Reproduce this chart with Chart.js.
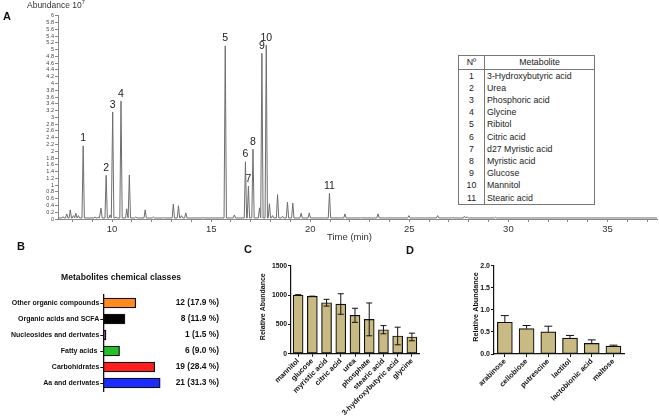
<!DOCTYPE html>
<html><head><meta charset="utf-8">
<script src="https://cdn.jsdelivr.net/npm/chart.js@4/dist/chart.umd.min.js"></script>
<style>
body{margin:0;background:#fff;width:659px;height:417px;position:relative;overflow:hidden;font-family:"Liberation Sans",Arial,sans-serif;}
canvas{position:absolute;}
.pl{position:absolute;font-weight:bold;font-size:11px;color:#111;line-height:1;}
#abund{position:absolute;left:27px;top:0px;font-size:8.5px;color:#333;line-height:1;}
#abund sup{font-size:5.5px;}
#tbl{position:absolute;left:458px;top:55px;width:137px;border-collapse:collapse;table-layout:fixed;font-size:8.8px;color:#222;background:#fff;border:1px solid #777;z-index:5;}
#tbl td{padding:0;height:12.2px;line-height:12.2px;white-space:nowrap;}
#tbl td.n{text-align:center;border-right:1px solid #777;}
#tbl td.m{padding-left:2px;}
#tbl tr.h td{height:12.5px;border-bottom:1px solid #777;}
#tbl tr.h td.m{text-align:center;padding-left:0;}
</style></head><body>
<canvas id="cA" width="659" height="250" style="left:0;top:0"></canvas>
<canvas id="cB" width="230" height="150" style="left:0;top:260px"></canvas>
<canvas id="cC" width="200" height="162" style="left:230px;top:255px"></canvas>
<canvas id="cD" width="229" height="162" style="left:430px;top:255px"></canvas>
<div id="abund">Abundance 10<sup>7</sup></div>
<div class="pl" style="left:3px;top:11px">A</div>
<div class="pl" style="left:17px;top:241px">B</div>
<div class="pl" style="left:244px;top:244px">C</div>
<div class="pl" style="left:406px;top:245px">D</div>
<table id="tbl"></table>
<script>
// ---------- Panel A: chromatogram ----------
const chromPeakTimes   = [7.52,7.71,7.89,8.05,8.17,8.30,8.54,9.14,9.30,9.44,9.70,9.90,10.03,10.20,10.45,10.74,10.87,11.20,11.67,12.08,12.60,13.09,13.35,13.50,13.72,14.60,15.71,16.17,16.73,16.88,17.11,17.44,17.56,17.78,17.94,18.10,18.35,18.60,18.85,19.12,19.54,19.95,20.97,21.75,22.60,23.42,24.98,26.43,27.20,27.78,27.92,29.35];
const chromPeakHeights = [0.07,0.15,0.27,0.10,0.17,0.10,2.16,0.06,0.05,0.32,1.29,0.12,3.16,0.06,3.48,0.30,1.30,0.06,0.27,0.06,0.04,0.44,0.39,0.10,0.18,0.04,5.11,0.12,1.69,0.97,2.06,0.33,4.89,5.13,0.45,0.10,0.72,0.08,0.50,0.47,0.17,0.18,0.76,0.15,0.04,0.15,0.10,0.10,0.04,0.08,0.06,0.05];
const chromPeakLabels  = ['','','','','','','1','','','','2','','3','','4','','','','','','','','','','','','5','','6','7','8','','9','10','','','','','','','','','11','','','','','','','','',''];
const chromBaseline = 0.03;
const chromRange = [7.27, 37.5];
const chromXTicks = [8,9,10,11,12,13,14,15,16,17,18,19,20,21,22,23,24,25,26,27,28,29,30,31,32,33,34,35,36,37];
const chromXLabels = ['10','15','20','25','30','35'];

// Table
const metaboliteIds = ['1','2','3','4','5','6','7','8','9','10','11'];
const metaboliteNames = ['3-Hydroxybutyric acid','Urea','Phosphoric acid','Glycine','Ribitol','Citric acid','d27 Myristic acid','Myristic acid','Glucose','Mannitol','Stearic acid'];

// ---------- Panel B ----------
const classNames = ['Other organic compounds','Organic acids and SCFA','Nucleosides and derivates','Fatty acids ','Carbohidrates','Aa and derivates'];
const classCounts = [12,8,1,6,19,21];
const classPercents = ['17.9','11.9','1.5','9.0','28.4','31.3'];

// ---------- Panel C ----------
const cCategories = ['mannitol','glucose','myristic acid','citric acid','urea','phosphate','stearic acid','3-hydroxybutyric acid','glycine'];
const cValues = [1000,978,869,847,654,585,409,302,285];
const cErrors = [6,3,58,175,120,280,70,150,65];

// ---------- Panel D ----------
const dCategories = ['arabinose','cellobiose','putrescine','lactitol','lactobionic acid','maltose'];
const dValues = [0.72,0.575,0.50,0.36,0.24,0.18];
const dErrors = [0.15,0.07,0.13,0.06,0.08,0.02];

// build table
(function(){
  const t=document.getElementById('tbl');
  let h='<colgroup><col style="width:26px"><col></colgroup><tr class="h"><td class="n">N&ordm;</td><td class="m">Metabolite</td></tr>';
  metaboliteIds.forEach((id,i)=>{h+='<tr><td class="n">'+id+'</td><td class="m">'+metaboliteNames[i]+'</td></tr>';});
  t.innerHTML=h;
})();

// trace from peak list
const halfW = 0.06;
const trace = [{x:chromRange[0], y:chromBaseline}];
chromPeakTimes.forEach((t,i)=>{
  trace.push({x:t-halfW,y:chromBaseline},{x:t,y:chromPeakHeights[i]},{x:t+halfW,y:chromBaseline});
});
trace.push({x:chromRange[1], y:chromBaseline});
trace.sort((a,b)=>a.x-b.x);

const peakLabelPlugin = {
  id:'peakLabels',
  afterDatasetsDraw(chart){
    const ctx=chart.ctx, xs=chart.scales.x, ys=chart.scales.y;
    ctx.save();
    ctx.font='10.5px "Liberation Sans", Arial, sans-serif';
    ctx.fillStyle='#222'; ctx.textAlign='center'; ctx.textBaseline='bottom';
    chromPeakLabels.forEach((l,i)=>{
      if(!l) return;
      ctx.fillText(l, xs.getPixelForValue(chromPeakTimes[i]), ys.getPixelForValue(chromPeakHeights[i])-2);
    });
    ctx.font='9.5px "Liberation Sans", Arial, sans-serif';
    ctx.fillStyle='#333';
    ctx.textAlign='left'; ctx.textBaseline='middle';
    ctx.fillText('Time (min)', 327, 237);
    ctx.restore();
  }
};

Chart.defaults.font.family='"Liberation Sans", Arial, sans-serif';

new Chart(document.getElementById('cA'),{
  type:'line',
  data:{datasets:[{data:trace,borderColor:'#6e6e6e',borderWidth:1,pointRadius:0,tension:0,fill:false}]},
  options:{
    responsive:false,animation:false,devicePixelRatio:1,
    layout:{padding:{top:15.7,right:2,left:0,bottom:0}},
    plugins:{legend:{display:false},tooltip:{enabled:false}},
    scales:{
      x:{type:'linear',min:chromRange[0],max:chromRange[1],
        afterFit:s=>{s.height=31;},
        afterBuildTicks:s=>{s.ticks=chromXTicks.map(v=>({value:v}));},
        ticks:{autoSkip:false,maxRotation:0,color:'#333',font:{size:9.5},padding:2,
          callback:v=>chromXLabels.includes(String(v))?String(v):''},
        grid:{drawOnChartArea:false,tickLength:3,color:'#888'},
        border:{color:'#888'}},
      y:{min:0,max:6,
        afterFit:s=>{s.width=58;},
        afterBuildTicks:s=>{const a=[];for(let i=0;i<=30;i++)a.push({value:i/5});s.ticks=a;},
        ticks:{autoSkip:false,color:'#444',font:{size:5.5},padding:1,
          callback:v=>String(Math.round(v*10)/10)},
        grid:{drawOnChartArea:false,tickLength:3,color:'#888'},
        border:{color:'#888'}}
    }
  },
  plugins:[peakLabelPlugin]
});

// ---------- B ----------
const bTextPlugin={
  id:'bText',
  afterDatasetsDraw(chart){
    const ctx=chart.ctx, meta=chart.getDatasetMeta(0);
    ctx.save();
    ctx.fillStyle='#111';
    ctx.font='bold 8.6px "Liberation Sans", Arial, sans-serif';
    ctx.textAlign='center';ctx.textBaseline='middle';
    ctx.fillText('Metabolites chemical classes',121,18);
    ctx.font='bold 8.4px "Liberation Sans", Arial, sans-serif';
    ctx.textAlign='right';
    meta.data.forEach((b,i)=>{
      ctx.fillText(classCounts[i]+' ('+classPercents[i]+' %)',219,b.y);
    });
    ctx.restore();
  }
};
new Chart(document.getElementById('cB'),{
  type:'bar',
  data:{labels:classNames,datasets:[{data:classCounts,
    backgroundColor:['#ff8a1e','#000000','#9a22c8','#22c02a','#ff1e1e','#1a2cff'],
    borderColor:'#111',borderWidth:1.3,borderSkipped:false,barThickness:10}]},
  options:{
    indexAxis:'y',responsive:false,animation:false,devicePixelRatio:1,
    layout:{padding:{top:35,bottom:19,right:64.4,left:0}},
    plugins:{legend:{display:false},tooltip:{enabled:false}},
    scales:{
      x:{display:false,min:0,max:23},
      y:{afterFit:s=>{s.width=103.3;},
        ticks:{color:'#111',font:{size:7,weight:'bold'},padding:1},
        grid:{drawOnChartArea:false,tickLength:3,color:'#111',offset:false},
        border:{color:'#111',width:1.3}}
    }
  },
  plugins:[bTextPlugin]
});

// ---------- error bars + axis title ----------
const errorBarPlugin={
  id:'errbars',
  afterDatasetsDraw(chart,args,opts){
    const ctx=chart.ctx, meta=chart.getDatasetMeta(0), ys=chart.scales.y;
    const vals=chart.data.datasets[0].data;
    ctx.save();ctx.strokeStyle='#111';ctx.lineWidth=1;
    meta.data.forEach((b,i)=>{
      const v=vals[i], e=opts.errors[i];
      const yt=ys.getPixelForValue(v+e), yb=ys.getPixelForValue(opts.upperOnly?v:v-e);
      ctx.beginPath();
      ctx.moveTo(b.x,yt);ctx.lineTo(b.x,yb);
      ctx.moveTo(b.x-opts.cap,yt);ctx.lineTo(b.x+opts.cap,yt);
      if(!opts.upperOnly){ctx.moveTo(b.x-opts.cap,yb);ctx.lineTo(b.x+opts.cap,yb);}
      ctx.stroke();
    });
    ctx.font='bold '+opts.titleSize+'px "Liberation Sans", Arial, sans-serif';
    ctx.fillStyle='#111';ctx.textAlign='center';ctx.textBaseline='middle';
    ctx.translate(opts.titleX,opts.titleY);ctx.rotate(-Math.PI/2);
    ctx.fillText('Relative Abundance',0,0);
    ctx.restore();
  }
};

function barOpts(yMax,step,fmt,yWidth,xHeight,padRight,labelSize,tickSize){
  return {
    responsive:false,animation:false,devicePixelRatio:1,
    layout:{padding:{top:10.7,right:padRight,left:0,bottom:0}},
    plugins:{legend:{display:false},tooltip:{enabled:false}},
    scales:{
      x:{afterFit:s=>{s.height=xHeight;},
        ticks:{autoSkip:false,maxRotation:45,minRotation:45,color:'#111',font:{size:labelSize,weight:'bold'},padding:0},
        grid:{offset:false,drawOnChartArea:false,tickLength:3,color:'#111'},
        border:{color:'#111',width:1.2}},
      y:{min:0,max:yMax,afterFit:s=>{s.width=yWidth;},
        ticks:{stepSize:step,color:'#111',font:{size:tickSize,weight:'bold'},padding:1,callback:fmt},
        grid:{drawOnChartArea:false,tickLength:3,color:'#111'},
        border:{color:'#111',width:1.2}}
    }
  };
}

const oC=barOpts(1500,500,v=>String(v),61,63.3,11,7.4,6.8);
oC.plugins.errbars={errors:cErrors,upperOnly:false,cap:3,titleX:32.7,titleY:51.7,titleSize:7};
new Chart(document.getElementById('cC'),{
  type:'bar',
  data:{labels:cCategories,datasets:[{data:cValues,backgroundColor:'#c9b982',borderColor:'#111',borderWidth:1.2,borderSkipped:false,barThickness:10}]},
  options:oC,plugins:[errorBarPlugin]
});

const oD=barOpts(2,0.5,v=>Number(v).toFixed(1),64,63,34.7,7.4,7);
oD.plugins.errbars={errors:dErrors,upperOnly:true,cap:4,titleX:46,titleY:52,titleSize:7.3};
new Chart(document.getElementById('cD'),{
  type:'bar',
  data:{labels:dCategories,datasets:[{data:dValues,backgroundColor:'#c9b982',borderColor:'#111',borderWidth:1.2,borderSkipped:false,barThickness:15}]},
  options:oD,plugins:[errorBarPlugin]
});
</script>
</body></html>
